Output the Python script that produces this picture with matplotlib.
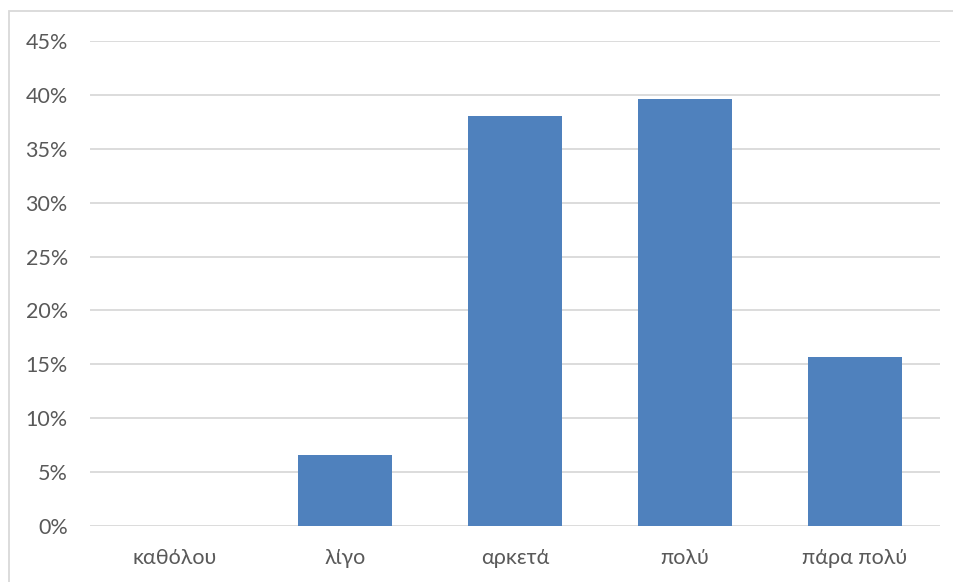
import matplotlib
matplotlib.use("Agg")
import matplotlib.pyplot as plt
from matplotlib.patches import Rectangle
from matplotlib.ticker import FuncFormatter, MultipleLocator

categories = ["καθόλου", "λίγο", "αρκετά", "πολύ", "πάρα πολύ"]
values = [0.0, 6.6, 38.0, 39.6, 15.7]

plt.rcParams['font.family'] = ['Lato', 'DejaVu Sans']

fig = plt.figure(figsize=(9.54, 5.82), dpi=100)
ax = fig.add_axes([90/954, 1-526/582, 850/954, 485/582])

x = list(range(len(categories)))
ax.bar(x, values, width=0.55, color="#4f81bd", zorder=3)
ax.set_xlim(-0.5, len(categories)-0.5)
ax.set_ylim(0, 45)
ax.yaxis.set_major_locator(MultipleLocator(5))
ax.yaxis.set_major_formatter(FuncFormatter(lambda v, p: f"{v:.0f}%"))
ax.set_xticks(x)
ax.set_xticklabels(categories)
ax.grid(axis="y", color="#d9d9d9", linewidth=1.3, zorder=0)
for s in ax.spines.values():
    s.set_visible(False)
ax.tick_params(axis="both", length=0, colors="#595959", labelsize=15.5)
ax.tick_params(axis="y", pad=16)
ax.tick_params(axis="x", pad=16)

fig.patches.append(Rectangle((9/954, -0.1), 2, 1.1 - 11/582, transform=fig.transFigure,
                             fill=False, edgecolor="#d9d9d9", linewidth=1.3))

fig.savefig("out.png", dpi=100)
